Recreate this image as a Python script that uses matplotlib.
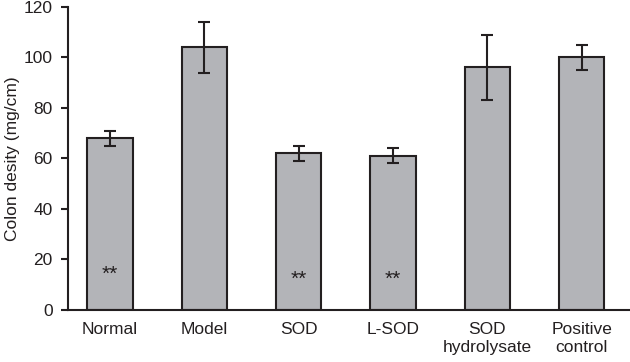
import matplotlib.pyplot as plt
import numpy as np

plt.rcParams["font.family"] = ["Liberation Sans", "DejaVu Sans"]

groups = ["Normal", "Model", "SOD", "L-SOD", "SOD\nhydrolysate", "Positive\ncontrol"]
density = [68, 104, 62, 61, 96, 100]
err = [3, 10, 3, 3, 13, 5]
stars = ["**", "", "**", "**", "", ""]
star_y = [14, 0, 12, 12, 0, 0]

BAR = "#b3b4b8"
EDGE = "#231f20"

fig = plt.figure(figsize=(6.3, 3.62), dpi=100)
ax = fig.add_axes([0.108, 0.144, 0.89, 0.837])
x = np.arange(len(groups))
ax.bar(x, density, width=0.48, color=BAR, edgecolor=EDGE, linewidth=1.5,
       yerr=err, error_kw=dict(ecolor=EDGE, elinewidth=1.5, capsize=4, capthick=1.5))
for xi, s, yy in zip(x, stars, star_y):
    if s:
        ax.text(xi, yy, s, ha="center", va="center", fontsize=15, color=EDGE)

ax.set_xlim(-0.445, 5.5)
ax.set_ylim(0, 120)
ax.set_yticks(range(0, 121, 20))
ax.set_xticks(x)
ax.set_xticklabels(groups, fontsize=12.5, color=EDGE, linespacing=1.25)
ax.tick_params(axis="x", length=0, pad=9)
ax.tick_params(axis="y", labelsize=12.5, labelcolor=EDGE, direction="out",
               length=5, width=1.5, color=EDGE, pad=6)
ax.set_ylabel("Colon desity (mg/cm)", fontsize=12.5, color=EDGE, labelpad=3)
for side in ["top", "right"]:
    ax.spines[side].set_visible(False)
for side in ["left", "bottom"]:
    ax.spines[side].set_linewidth(1.5)
    ax.spines[side].set_color(EDGE)

fig.savefig("out.png", dpi=100)
